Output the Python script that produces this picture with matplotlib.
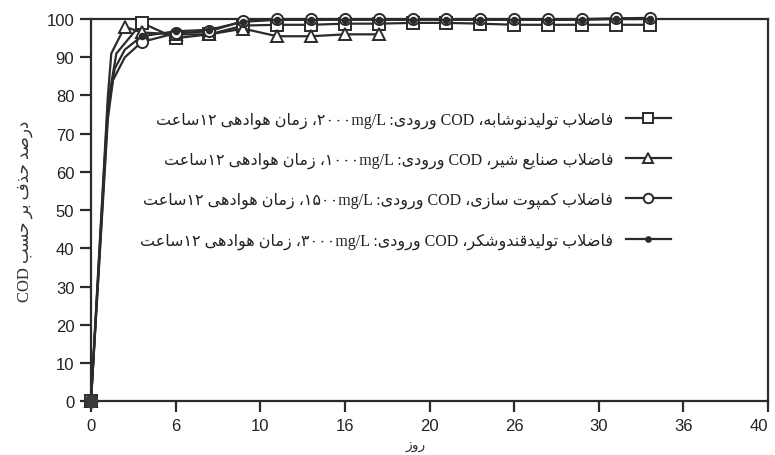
import matplotlib
matplotlib.use("Agg")
import matplotlib.pyplot as plt

# --- data ----------------------------------------------------------------
days_nooshabe = [0, 1, 1.5, 3, 5, 7, 9, 11, 13, 15, 17, 19, 21, 23, 25, 27, 29, 31, 33]
cod_nooshabe = [0, 78, 91, 99, 95, 96, 98.3, 98.5, 98.5, 98.8, 98.8, 99, 99, 98.8, 98.5, 98.5, 98.5, 98.5, 98.5]

days_shir = [0, 1, 1.2, 2, 3, 5, 7, 9, 11, 13, 15, 17]
cod_shir = [0, 80, 91, 98, 96.5, 96, 96, 97.5, 95.5, 95.5, 96, 96]

days_kompot = [0, 1, 1.3, 2, 3, 5, 7, 9, 11, 13, 15, 17, 19, 21, 23, 25, 27, 29, 31, 33]
cod_kompot = [0, 74, 84, 90, 94, 96.3, 96.8, 99.5, 100, 100, 100, 100, 100, 100, 100, 100, 100, 100, 100.2, 100.3]

days_ghand = [0, 1, 1.4, 2, 3, 5, 7, 9, 11, 13, 15, 17, 19, 21, 23, 25, 27, 29, 31, 33]
cod_ghand = [0, 76, 87, 92, 95.5, 96.8, 97.2, 99.3, 99.8, 99.8, 99.8, 99.8, 99.8, 99.8, 99.8, 99.8, 99.8, 99.8, 100, 100]

x_ticks = [0, 5, 10, 15, 20, 25, 30, 35, 40]
x_tick_labels = ["0", "6", "10", "16", "20", "26", "30", "36", "40"]
y_ticks = list(range(0, 101, 10))

labels = [
    "فاضلاب تولیدنوشابه، COD ورودی: ۲۰۰۰mg/L، زمان هوادهی ۱۲ساعت",
    "فاضلاب صنایع شیر، COD ورودی: ۱۰۰۰mg/L، زمان هوادهی ۱۲ساعت",
    "فاضلاب کمپوت سازی، COD ورودی: ۱۵۰۰mg/L، زمان هوادهی ۱۲ساعت",
    "فاضلاب تولیدقندوشکر، COD ورودی: ۳۰۰۰mg/L، زمان هوادهی ۱۲ساعت",
]
y_label = "درصد حذف بر حسب COD"
x_label = "روز"

# --- tiny arabic shaper + bidi (matplotlib does no shaping) ---------------
FORMS = {
    "ا": ("\uFE8D", "\uFE8E", None, None),
    "ب": ("\uFE8F", "\uFE90", "\uFE91", "\uFE92"),
    "پ": ("\uFB56", "\uFB57", "\uFB58", "\uFB59"),
    "ت": ("\uFE95", "\uFE96", "\uFE97", "\uFE98"),
    "ح": ("\uFEA1", "\uFEA2", "\uFEA3", "\uFEA4"),
    "د": ("\uFEA9", "\uFEAA", None, None),
    "ذ": ("\uFEAB", "\uFEAC", None, None),
    "ر": ("\uFEAD", "\uFEAE", None, None),
    "ز": ("\uFEAF", "\uFEB0", None, None),
    "س": ("\uFEB1", "\uFEB2", "\uFEB3", "\uFEB4"),
    "ش": ("\uFEB5", "\uFEB6", "\uFEB7", "\uFEB8"),
    "ص": ("\uFEB9", "\uFEBA", "\uFEBB", "\uFEBC"),
    "ض": ("\uFEBD", "\uFEBE", "\uFEBF", "\uFEC0"),
    "ع": ("\uFEC9", "\uFECA", "\uFECB", "\uFECC"),
    "ف": ("\uFED1", "\uFED2", "\uFED3", "\uFED4"),
    "ق": ("\uFED5", "\uFED6", "\uFED7", "\uFED8"),
    "ک": ("\uFB8E", "\uFB8F", "\uFB90", "\uFB91"),
    "ل": ("\uFEDD", "\uFEDE", "\uFEDF", "\uFEE0"),
    "م": ("\uFEE1", "\uFEE2", "\uFEE3", "\uFEE4"),
    "ن": ("\uFEE5", "\uFEE6", "\uFEE7", "\uFEE8"),
    "ه": ("\uFEE9", "\uFEEA", "\uFEEB", "\uFEEC"),
    "و": ("\uFEED", "\uFEEE", None, None),
    "ی": ("\uFBFC", "\uFBFD", "\uFBFE", "\uFBFF"),
}


def shape(s):
    out = []
    i = 0
    while i < len(s):
        ch = s[i]
        if ch not in FORMS:
            out.append(ch)
            i += 1
            continue
        prev = s[i - 1] if i > 0 else ""
        prev_joins = prev in FORMS and FORMS[prev][2] is not None
        if ch == "ل" and i + 1 < len(s) and s[i + 1] == "ا":
            out.append("\uFEFC" if prev_joins else "\uFEFB")
            i += 2
            continue
        nxt = s[i + 1] if i + 1 < len(s) else ""
        next_joins = nxt in FORMS and FORMS[ch][2] is not None
        f = FORMS[ch]
        if prev_joins and next_joins:
            out.append(f[3])
        elif prev_joins:
            out.append(f[1])
        elif next_joins:
            out.append(f[2])
        else:
            out.append(f[0])
        i += 1
    return "".join(out)


def is_ltr(ch):
    return ch.isascii() and (ch.isalnum() or ch in "/.") or "\u06F0" <= ch <= "\u06F9"


def rtl(s):
    runs = []
    for ch in s:
        kind = is_ltr(ch)
        if runs and runs[-1][0] == kind:
            runs[-1][1] += ch
        else:
            runs.append([kind, ch])
    parts = []
    for kind, text in reversed(runs):
        parts.append(text if kind else shape(text)[::-1])
    return "".join(parts)


# --- plot ------------------------------------------------------------------
fig = plt.figure(figsize=(7.75, 4.56), dpi=100)
ax = fig.add_axes([0.1174, 0.118, 0.8736, 0.838])

line_kw = dict(color="#2b2b2b", linewidth=1.6, markeredgewidth=1.4, markerfacecolor="white",
               markeredgecolor="#2b2b2b", clip_on=False, zorder=3)

ax.plot(days_nooshabe, cod_nooshabe, marker="s", markersize=8,
        markevery=[0] + list(range(3, len(days_nooshabe))), label=rtl(labels[0]), **line_kw)
ax.plot(days_shir, cod_shir, marker="^", markersize=8,
        markevery=[0] + list(range(3, len(days_shir))), label=rtl(labels[1]), **line_kw)
ax.plot(days_kompot, cod_kompot, marker="o", markersize=8,
        markevery=[0] + list(range(4, len(days_kompot))), label=rtl(labels[2]), **line_kw)
line_kw.update(markerfacecolor="#2b2b2b")
ax.plot(days_ghand, cod_ghand, marker="o", markersize=4,
        markevery=[0] + list(range(4, len(days_ghand))), label=rtl(labels[3]), **line_kw)
# filled blob at the origin
ax.plot([days_ghand[0]], [cod_ghand[0]], "o", color="#3a3a3a", markersize=9, clip_on=False, zorder=4)

ax.set_xlim(0, 40)
ax.set_ylim(0, 100)
ax.set_xticks(x_ticks)
ax.set_xticklabels(x_tick_labels)
ax.set_yticks(y_ticks)

for lab in ax.get_xticklabels() + ax.get_yticklabels():
    lab.set_family(["Liberation Sans", "DejaVu Sans"])
    lab.set_fontsize(12)
    lab.set_color("#222222")
ax.tick_params(axis="both", direction="out", length=8, width=1.6, color="#2b2b2b", pad=4)
ax.get_xticklabels()[-1].set_horizontalalignment("right")

for sp in ax.spines.values():
    sp.set_linewidth(1.6)
    sp.set_color("#2b2b2b")

ax.set_xlabel(rtl(x_label), family=["DejaVu Sans"], fontsize=10, color="#333333")
ax.xaxis.set_label_coords(0.48, -0.095)
ax.set_ylabel(rtl(y_label), family=["Liberation Serif", "DejaVu Sans"], fontsize=12,
              labelpad=10, color="#333333")

leg = ax.legend(loc="center", bbox_to_anchor=(0.523, 0.603), bbox_transform=fig.transFigure,
                frameon=False, markerfirst=False, handlelength=2.8, handletextpad=0.8,
                labelspacing=1.5, markerscale=0.85,
                prop={"family": ["Liberation Serif", "DejaVu Sans"], "size": 11.5})
for t in leg.get_texts():
    t.set_color("#222222")

fig.savefig("out.png", dpi=100)
